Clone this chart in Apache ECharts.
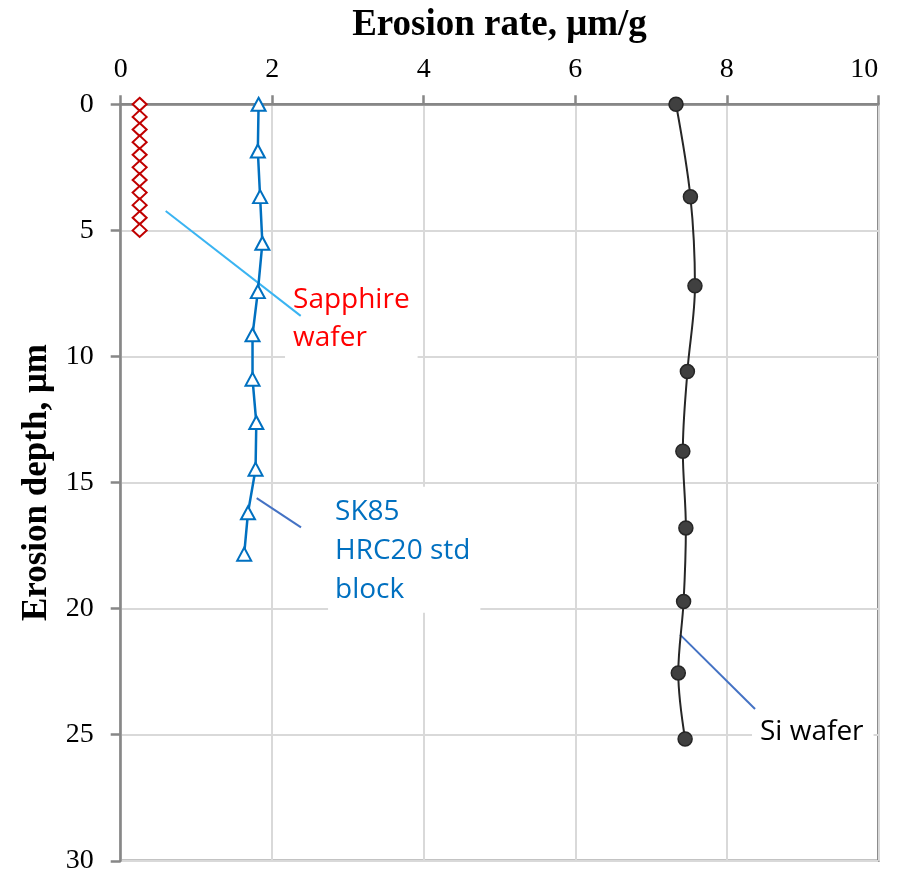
<!DOCTYPE html>
<html>
<head>
<meta charset="utf-8">
<script src="https://cdn.jsdelivr.net/npm/echarts@6/dist/echarts.min.js"></script>
<style>
  html, body { margin: 0; padding: 0; background: #fff; }
  #chart { width: 906px; height: 872px; }
</style>
</head>
<body>
<div id="chart"></div>
<script>
// Erosion depth (µm) vs. erosion rate (µm/g) for three materials.
const sapphireRate  = [0.25, 0.25, 0.25, 0.25, 0.25, 0.25, 0.25, 0.25, 0.25, 0.25, 0.25];
const sapphireDepth = [0, 0.5, 1, 1.5, 2, 2.5, 3, 3.5, 4, 4.5, 5];

const sk85Rate  = [1.82, 1.81, 1.84, 1.87, 1.81, 1.74, 1.74, 1.79, 1.78, 1.68, 1.63];
const sk85Depth = [0, 1.85, 3.66, 5.51, 7.43, 9.14, 10.9, 12.62, 14.47, 16.2, 17.84];

const siRate  = [7.33, 7.52, 7.58, 7.48, 7.42, 7.46, 7.43, 7.36, 7.45];
const siDepth = [0, 3.67, 7.2, 10.6, 13.76, 16.8, 19.72, 22.55, 25.17];

const xTicks = [0, 2, 4, 6, 8, 10];
const yTicks = [0, 5, 10, 15, 20, 25, 30];

// Callout text, its box corner and leader line, all in data units.
const notes = [
  { text: 'Sapphire\nwafer', color: '#ff0000', box: [2.169, 6.96], pad: [1, 8, 4, 8], lh: 38,
    leader: [[0.594, 4.23], [2.376, 8.39]], leaderColor: '#3ab4f2' },
  { text: 'SK85\nHRC20 std\nblock', color: '#0070c0', box: [2.737, 15.17], pad: [6, 10, 3, 7], lh: 39,
    leader: [[1.795, 15.62], [2.38, 16.78]], leaderColor: '#4472c4' },
  { text: 'Si wafer', color: '#000000', box: [8.333, 24.13], pad: [0, 10, 0, 8], lh: 38,
    leader: [[7.383, 21.03], [8.373, 23.98]], leaderColor: '#4472c4' }
];

const zip = (xs, ys) => xs.map((x, i) => [x, ys[i]]);
const AXIS_GREY = '#878787';
const GRID_GREY = '#d9d9d9';
const serif = '"Liberation Serif", "Times New Roman", serif';
const sans = '"Open Sans", "Noto Sans", sans-serif';

const chart = echarts.init(document.getElementById('chart'), null, { renderer: 'canvas' });

chart.setOption({
  animation: false,
  backgroundColor: '#ffffff',
  grid: {
    left: 120.7, right: 27.7, top: 104.3, bottom: 11.2,
    containLabel: false, outerBoundsMode: 'none',
    show: true, borderColor: AXIS_GREY, borderWidth: 2.5, backgroundColor: 'transparent'
  },
  xAxis: {
    type: 'value', position: 'top', min: xTicks[0], max: xTicks[xTicks.length - 1], interval: 2,
    name: 'Erosion rate, μm/g', nameLocation: 'middle', nameGap: 60,
    nameTextStyle: { fontFamily: serif, fontWeight: 'bold', fontSize: 37, color: '#000' },
    axisLine: { show: true, onZero: false, lineStyle: { color: AXIS_GREY, width: 2.5 } },
    axisTick: { show: true, inside: false, length: 9, lineStyle: { color: AXIS_GREY, width: 2.5 } },
    axisLabel: { fontFamily: serif, fontSize: 28, color: '#000', margin: 21, alignMaxLabel: 'right' },
    splitLine: { show: true, lineStyle: { color: GRID_GREY, width: 2 } }
  },
  yAxis: {
    type: 'value', inverse: true, min: yTicks[0], max: yTicks[yTicks.length - 1], interval: 5,
    name: 'Erosion depth, μm', nameLocation: 'middle', nameGap: 63, nameRotate: 90,
    nameTextStyle: { fontFamily: serif, fontWeight: 'bold', fontSize: 35, color: '#000' },
    axisLine: { show: true, onZero: false, lineStyle: { color: AXIS_GREY, width: 2.5 } },
    axisTick: { show: true, inside: false, length: 10, lineStyle: { color: AXIS_GREY, width: 2.5 } },
    axisLabel: { fontFamily: serif, fontSize: 28, color: '#000', margin: 27 },
    splitLine: { show: true, lineStyle: { color: GRID_GREY, width: 2 } }
  },
  series: [
    // callout boxes (white backgrounds hide the gridlines behind the text)
    {
      name: 'notes', type: 'scatter', z: 3, silent: true, symbolSize: 0,
      itemStyle: { opacity: 1 },
      data: notes.map(n => ({
        value: n.box,
        label: {
          show: true, position: [0, 0], align: 'left', verticalAlign: 'top', opacity: 1,
          formatter: n.text, color: n.color, fontFamily: sans, fontSize: 28,
          lineHeight: n.lh, backgroundColor: '#ffffff', padding: n.pad
        }
      }))
    },
    // leader lines
    {
      name: 'leaders', type: 'line', z: 4, silent: true, data: [], symbol: 'none',
      markLine: {
        silent: true, symbol: ['none', 'none'], animation: false,
        label: { show: false },
        data: notes.map(n => [
          { coord: n.leader[0], lineStyle: { color: n.leaderColor, width: 2, type: 'solid', opacity: 1 } },
          { coord: n.leader[1] }
        ])
      }
    },
    {
      name: 'Sapphire wafer', type: 'scatter', z: 5,
      data: zip(sapphireRate, sapphireDepth),
      symbol: 'diamond', symbolSize: [14, 13],
      itemStyle: { color: '#ffffff', borderColor: '#c00000', borderWidth: 2, opacity: 1 }
    },
    {
      name: 'SK85 HRC20 std block', type: 'line', z: 5,
      data: zip(sk85Rate, sk85Depth),
      symbol: 'triangle', symbolSize: [14, 13], showAllSymbol: true,
      lineStyle: { color: '#0070c0', width: 2.5 },
      itemStyle: { color: '#ffffff', borderColor: '#0070c0', borderWidth: 2 }
    },
    {
      name: 'Si wafer', type: 'line', z: 5, smooth: 0.35,
      data: zip(siRate, siDepth),
      symbol: 'circle', symbolSize: 14, showAllSymbol: true,
      lineStyle: { color: '#262626', width: 2 },
      itemStyle: { color: '#404040', borderColor: '#262626', borderWidth: 1.5 }
    }
  ]
});
</script>
</body>
</html>
